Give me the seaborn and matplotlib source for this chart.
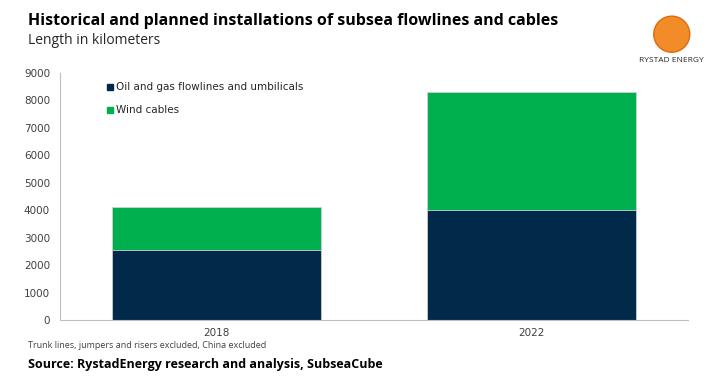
import pandas as pd
import numpy as np
import matplotlib.pyplot as plt
import seaborn as sns
from matplotlib.patches import Ellipse, Patch

# ── DATA ───────────────────────────────────────────────────────
years      = ['2018', '2022']
oil_gas    = [2550, 3990]
wind       = [1570, 4310]
series     = ['Oil and gas flowlines and umbilicals', 'Wind cables']
yticks     = [0, 1000, 2000, 3000, 4000, 5000, 6000, 7000, 8000, 9000]

navy  = '#012A4A'
green = '#00B04F'

df = pd.DataFrame({'year': years, 'oil': oil_gas, 'wind': wind})
df['total'] = df['oil'] + df['wind']

sns.set_style('white')
plt.rcParams['font.family'] = ['Open Sans', 'DejaVu Sans']

fig = plt.figure(figsize=(7.2, 3.8), dpi=100)
ax = fig.add_axes([0.083, 0.158, 0.873, 0.65])

# stacked bars: total first (green), oil & gas on top (navy)
sns.barplot(data=df, x='year', y='total', color=green, width=0.665,
            edgecolor='#d0d0d0', linewidth=0.6, saturation=1, ax=ax)
sns.barplot(data=df, x='year', y='oil', color=navy, width=0.665,
            edgecolor='#d0d0d0', linewidth=0.6, saturation=1, ax=ax)

ax.set_ylim(0, 9000)
ax.set_yticks(yticks)
ax.set_xlim(-0.5, 1.5)
ax.set_xlabel('')
ax.set_ylabel('')
ax.tick_params(axis='both', labelsize=8, colors='#404040', length=0)
ax.tick_params(axis='x', pad=6)
ax.tick_params(axis='y', pad=7)
for lbl in ax.get_xticklabels() + ax.get_yticklabels():
    lbl.set_family(['DejaVu Sans'])
    lbl.set_fontsize(7.5)
for s in ['top', 'right']:
    ax.spines[s].set_visible(False)
for s in ['left', 'bottom']:
    ax.spines[s].set_color('#bfbfbf')
    ax.spines[s].set_linewidth(0.8)

handles = [Patch(color=navy), Patch(color=green)]
leg = ax.legend(handles, series, loc='upper left', bbox_to_anchor=(0.061, 1.0),
                frameon=False, handlelength=0.5, handleheight=0.5,
                handletextpad=0.35, labelspacing=1.25, labelcolor='#262626',
                prop={'family': ['DejaVu Sans'], 'size': 7.5})

# ── TEXT ───────────────────────────────────────────────────────
fig.text(0.039, 0.945, 'Historical and planned installations of subsea flowlines and cables',
         fontsize=11.5, fontweight='bold', color='black', va='center')
fig.text(0.039, 0.893, 'Length in kilometers', fontsize=10, color='#262626', va='center')
fig.text(0.039, 0.092, 'Trunk lines, jumpers and risers excluded, China excluded',
         fontsize=6.5, color='#404040', va='center')
fig.text(0.039, 0.04, 'Source: RystadEnergy research and analysis, SubseaCube',
         fontsize=9, fontweight='bold', color='black', va='center')

# logo stand-in
logo = Ellipse((0.933, 0.91), 0.05, 0.095, transform=fig.transFigure,
               facecolor='#F28C28', edgecolor='#E06A10', linewidth=1)
fig.patches.append(logo)
fig.text(0.933, 0.84, 'RYSTAD ENERGY', fontsize=6, color='#262626',
         ha='center', va='center')

fig.savefig('out.png', dpi=100)
